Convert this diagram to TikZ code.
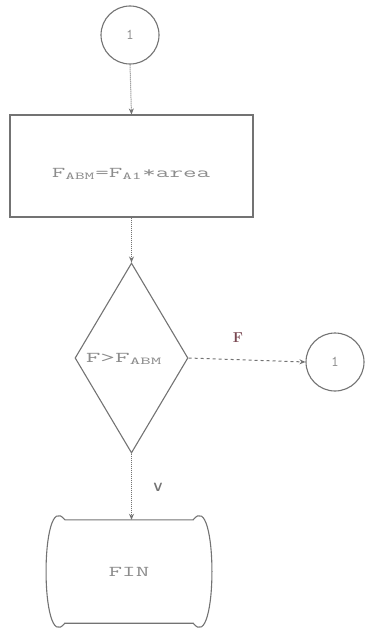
\documentclass[tikz,border=0pt]{standalone}
\usetikzlibrary{arrows.meta,shapes.geometric}
\definecolor{lin}{gray}{0.45}
\definecolor{txt}{gray}{0.55}
\definecolor{flab}{RGB}{120,70,80}
\tikzset{
  shp/.style={draw=lin, line width=1.1pt},
  conn/.style={draw=lin, line width=1pt, densely dotted, -{Stealth[length=6pt,width=5pt]}},
  hconn/.style={draw=lin, line width=1pt, dashed, -{Stealth[length=6pt,width=5pt]}},
  lbl/.style={text=txt, font=\ttfamily\fontsize{15}{17}\selectfont},
}
\newcommand{\wide}[2][1.75]{\scalebox{#1}[1]{#2}}
\begin{document}
\begin{tikzpicture}[x=1pt,y=-1pt]
\useasboundingbox (0,0) rectangle (365,629);
\node[shp, circle, minimum size=58pt, inner sep=0pt, lbl] (c1) at (130,35) {1};
\node[shp, rectangle, minimum width=243pt, minimum height=102pt, inner sep=0pt] (proc) at (131.5,166) {};
\node[lbl, anchor=base] (proctxt) at (131,177) {\wide{F\textsubscript{ABM}=F\textsubscript{A1}*area}};
\node[shp, diamond, minimum width=113pt, minimum height=190pt, inner sep=0pt] (dec) at (131.5,358) {};
\node[lbl, anchor=base] (dectxt) at (124,362) {\wide[1.9]{F>F\textsubscript{ABM}}};
\node[shp, circle, minimum size=58pt, inner sep=0pt, lbl] (c2) at (335,362) {1};
\node[minimum width=128pt, minimum height=103pt, inner sep=0pt, lbl] (fin) at (129,571.5) {\wide{FIN}};
\draw[shp] (fin.north west) -- (fin.north east)
  .. controls ([xshift=25pt,yshift=33pt]fin.north east) and ([xshift=25pt,yshift=-33pt]fin.south east) .. (fin.south east)
  -- (fin.south west)
  .. controls ([xshift=-25pt,yshift=-33pt]fin.south west) and ([xshift=-25pt,yshift=33pt]fin.north west) .. (fin.north west);
\draw[conn] (c1.south) -- (proc.north);
\draw[conn] (proc.south -| dec.north) -- (dec.north);
\draw[hconn] (dec.east) -- (c2.west);
\draw[conn] (dec.south) -- (fin.north -| dec.south);
\node[text=flab, font=\bfseries\Large] (flbl) at (238,338) {F};
\node[text=lin, font=\sffamily\bfseries\large] (vlbl) at (158,487) {V};
\end{tikzpicture}
\end{document}
